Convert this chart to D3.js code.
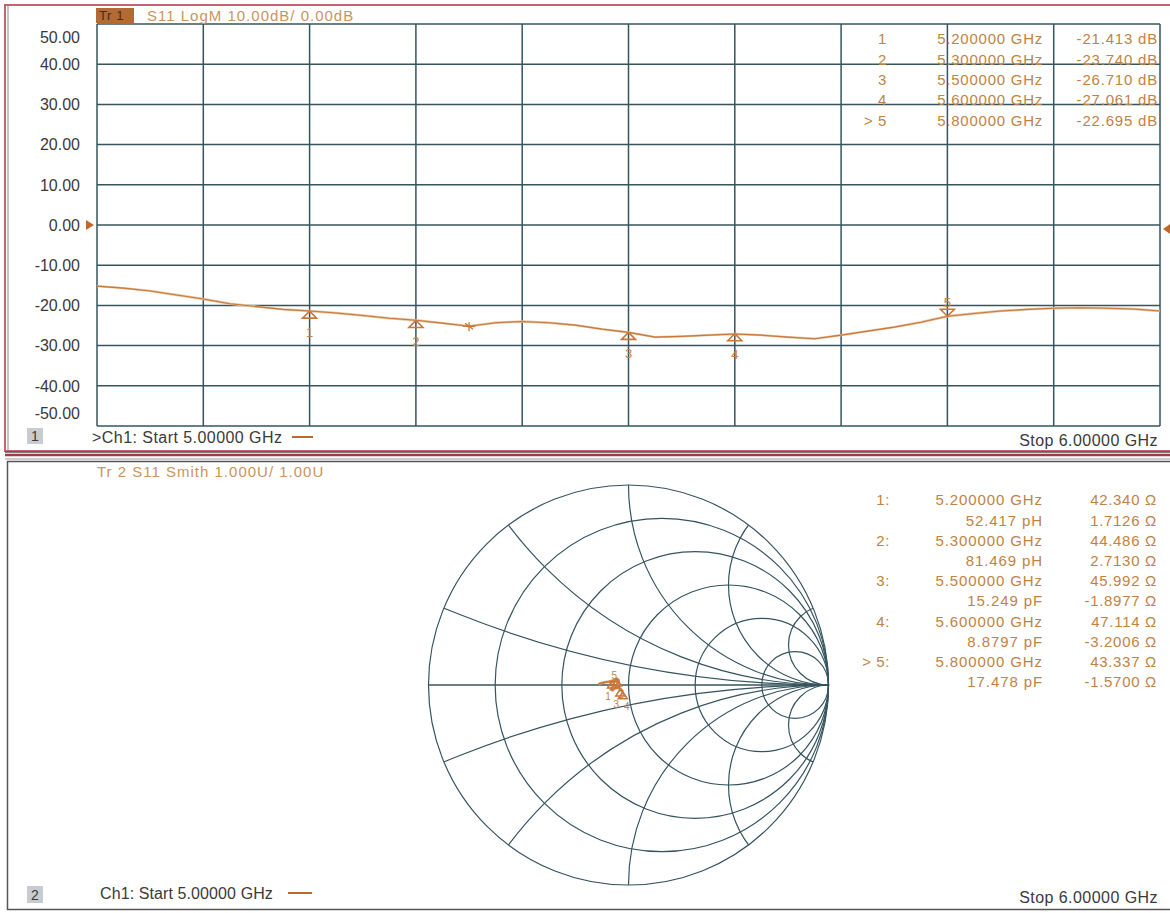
<!DOCTYPE html>
<html><head><meta charset="utf-8">
<script src="https://cdn.jsdelivr.net/npm/d3@7"></script>
<style>
html,body{margin:0;padding:0;background:#fff;}
svg text{font-family:"Liberation Sans",Arial,sans-serif;}
</style></head><body>
<svg id="c" width="1170" height="913"></svg>
<script>
// ---- S11 log magnitude trace (GHz, dB) ----
const freqGHz = [5.000,5.025,5.050,5.075,5.100,5.125,5.150,5.175,5.200,5.225,5.250,5.275,5.300,5.325,5.350,5.375,5.400,5.425,5.450,5.475,5.500,5.525,5.550,5.575,5.600,5.625,5.650,5.675,5.700,5.725,5.750,5.775,5.800,5.825,5.850,5.875,5.900,5.925,5.950,5.975,6.000];
const s11dB = [-15.2,-15.7,-16.4,-17.4,-18.4,-19.6,-20.3,-21.0,-21.4,-21.9,-22.5,-23.2,-23.7,-24.4,-25.2,-24.3,-24.0,-24.3,-24.9,-25.9,-26.7,-27.9,-27.7,-27.4,-27.1,-27.4,-27.9,-28.3,-27.4,-26.4,-25.4,-24.2,-22.7,-22.0,-21.4,-21.0,-20.7,-20.6,-20.7,-20.9,-21.4];
const yTicks = [50,40,30,20,10,0,-10,-20,-30,-40,-50];
const xGridGHz = [5.0,5.1,5.2,5.3,5.4,5.5,5.6,5.7,5.8,5.9,6.0];
const starIndex = 14; // 5.35 GHz

// ---- markers ----
const markerNo = [1,2,3,4,5];
const markerGHz = [5.2,5.3,5.5,5.6,5.8];
const markerFreqText = ["5.200000 GHz","5.300000 GHz","5.500000 GHz","5.600000 GHz","5.800000 GHz"];
const markerDb = [-21.413,-23.740,-26.710,-27.061,-22.695];
const markerR = [42.340,44.486,45.992,47.114,43.337];
const markerX = [1.7126,2.7130,-1.8977,-3.2006,-1.5700];
const markerLC = ["52.417 pH","81.469 pH","15.249 pF","8.8797 pF","17.478 pF"];
const activeMarker = 5;

// ---- Smith chart grid and trace (reflection coefficient) ----
const smithR = [0,0.2,0.5,1,2,5];
const smithX = [0.2,0.5,1,2,5];
const smithGHz = [5.00,5.05,5.10,5.15,5.20,5.25,5.30,5.35,5.40,5.45,5.50,5.55,5.60,5.65,5.70,5.75,5.80,5.85,5.90,5.95,6.00];
const smithRe = [-0.150,-0.135,-0.115,-0.096,-0.0826,-0.069,-0.0575,-0.050,-0.056,-0.050,-0.0413,-0.031,-0.0286,-0.033,-0.040,-0.056,-0.0711,-0.080,-0.088,-0.086,-0.082];
const smithIm = [0.004,0.010,0.014,0.017,0.0201,0.026,0.0304,0.024,0.012,-0.006,-0.0206,-0.030,-0.0339,-0.028,-0.020,-0.012,-0.0180,-0.026,-0.022,-0.016,-0.018];

const svg = d3.select("#c");
const GRID = "#36545e", TXT = "#3a3a3a", TAN = "#c08345", TRACE = "#c9773a";

// text helper
function label(g, x0, y0, s, opt) {
  const o = Object.assign({size:15, fill:TXT, anchor:"start", ls:0}, opt||{});
  return g.append("text").attr("x",x0).attr("y",y0).attr("dy","0.36em")
    .attr("text-anchor",o.anchor).attr("font-size",o.size).attr("fill",o.fill)
    .attr("letter-spacing",o.ls).text(s);
}

// ================= panel frames =================
svg.append("rect").attr("x",5).attr("y",5).attr("width",1170).attr("height",446)
  .attr("fill","none").attr("stroke","#c9616e").attr("stroke-width",2);
svg.append("line").attr("x1",8).attr("x2",8).attr("y1",6).attr("y2",451).attr("stroke","#8a8a8a").attr("stroke-width",1);
svg.append("line").attr("x1",5).attr("x2",1170).attr("y1",452).attr("y2",452).attr("stroke","#555").attr("stroke-width",1.5);
svg.append("line").attr("x1",5).attr("x2",1170).attr("y1",455).attr("y2",455).attr("stroke","#a83848").attr("stroke-width",2.5);
svg.append("line").attr("x1",5).attr("x2",1170).attr("y1",459).attr("y2",459).attr("stroke","#999").attr("stroke-width",1.2);
svg.append("rect").attr("x",7.5).attr("y",461.5).attr("width",1170).attr("height",448)
  .attr("fill","none").attr("stroke","#555").attr("stroke-width",1.5);

// ================= top: log magnitude =================
const x = d3.scaleLinear().domain([5,6]).range([97,1160]);
const y = d3.scaleLinear().domain([-50,50]).range([426,24]);

const gTop = svg.append("g");
gTop.selectAll("line.v").data(xGridGHz).join("line")
  .attr("x1",d=>x(d)).attr("x2",d=>x(d)).attr("y1",y(50)).attr("y2",y(-50))
  .attr("stroke",GRID).attr("stroke-width",1.5);
gTop.selectAll("line.h").data(yTicks).join("line")
  .attr("x1",x(5)).attr("x2",x(6)).attr("y1",d=>y(d)).attr("y2",d=>y(d))
  .attr("stroke",GRID).attr("stroke-width",1.5);

// y axis labels (end labels pulled inside the graticule)
yTicks.forEach(d=>{
  label(gTop, 80, Math.min(Math.max(y(d),y(50)+13),y(-50)-13), d.toFixed(2), {size:16, anchor:"end"});
});

// reference position arrows
gTop.append("path").attr("d",`M${x(5)-11},${y(0)-5}L${x(5)-3},${y(0)}L${x(5)-11},${y(0)+5}Z`).attr("fill","#c0682a");
gTop.append("path").attr("d",`M1170,${y(0)-1}L1163,${y(0)+4}L1170,${y(0)+9}Z`).attr("fill","#c0682a");

// trace
const line = d3.line().x((d,i)=>x(freqGHz[i])).y(d=>y(d));
gTop.append("path").datum(s11dB).attr("d",line).attr("fill","none")
  .attr("stroke","#e6c29a").attr("stroke-width",2.4);
gTop.append("path").datum(s11dB).attr("d",line).attr("fill","none")
  .attr("stroke",TRACE).attr("stroke-width",1.1);

// star marker on the trace
{
  const px = x(freqGHz[starIndex]), py = y(s11dB[starIndex]);
  const st = gTop.append("g").attr("stroke",TRACE).attr("stroke-width",1.3);
  st.append("line").attr("x1",px-6).attr("x2",px+6).attr("y1",py).attr("y2",py);
  st.append("line").attr("x1",px).attr("x2",px).attr("y1",py-4).attr("y2",py+5);
  st.append("line").attr("x1",px-4).attr("x2",px+4).attr("y1",py-3).attr("y2",py+3);
}

// marker triangles and numbers
markerNo.forEach((m,i)=>{
  const mx = x(markerGHz[i]), my = y(markerDb[i]);
  if (m === activeMarker) {
    gTop.append("path").attr("d",`M${mx-7},${my-7}L${mx+7},${my-7}L${mx},${my}Z`)
      .attr("fill","none").attr("stroke",TRACE).attr("stroke-width",1.6);
    label(gTop, mx, my-14, m, {size:13, anchor:"middle", fill:TAN});
  } else {
    gTop.append("path").attr("d",`M${mx},${my}L${mx+7},${my+7}L${mx-7},${my+7}Z`)
      .attr("fill","none").attr("stroke",TRACE).attr("stroke-width",1.6);
    label(gTop, mx, my+21, m, {size:13, anchor:"middle", fill:TAN});
  }
});

// marker readout table
const tRow = d3.scaleLinear().domain([0,1]).range([39,59.3]);
markerNo.forEach((m,i)=>{
  const ty = tRow(i);
  label(gTop, 887, ty, m===activeMarker?"> "+m:String(m), {size:15, anchor:"end", fill:TAN, ls:0.6});
  label(gTop, 1043, ty, markerFreqText[i], {size:15, anchor:"end", fill:TAN, ls:0.75});
  label(gTop, 1158, ty, markerDb[i].toFixed(3)+" dB", {size:15, anchor:"end", fill:TAN, ls:0.8});
});

// header and footer
gTop.append("rect").attr("x",96).attr("y",8).attr("width",38).attr("height",15).attr("fill","#b46a34");
label(gTop, 99, 15.5, "Tr 1", {size:13, fill:"#4a2a12", ls:0.6});
label(gTop, 147, 15.5, "S11 LogM 10.00dB/ 0.00dB", {size:15, fill:"#c89560", ls:1.0});
gTop.append("rect").attr("x",27).attr("y",428).attr("width",16).attr("height",16).attr("fill","#c8ccd0");
label(gTop, 35, 436, "1", {size:14, anchor:"middle"});
label(gTop, 92, 437, ">Ch1: Start 5.00000 GHz", {size:16, ls:0.45});
gTop.append("line").attr("x1",292).attr("x2",313).attr("y1",437).attr("y2",437).attr("stroke","#c0682a").attr("stroke-width",2);
label(gTop, 1158, 440, "Stop 6.00000 GHz", {size:16, anchor:"end", ls:0.45});

// ================= bottom: Smith chart =================
const sx = d3.scaleLinear().domain([-1,1]).range([428.5,828.5]);
const sy = d3.scaleLinear().domain([-1,1]).range([885,485]);
const rad = v => sx(v) - sx(0);
const gS = svg.append("g");

svg.append("defs").append("clipPath").attr("id","unit")
  .append("circle").attr("cx",sx(0)).attr("cy",sy(0)).attr("r",rad(1));

// constant resistance circles
gS.selectAll("circle.r").data(smithR).join("circle")
  .attr("cx",d=>sx(d/(1+d))).attr("cy",sy(0)).attr("r",d=>rad(1/(1+d)))
  .attr("fill","none").attr("stroke",GRID).attr("stroke-width",1.2);
// constant reactance arcs
const xs = smithX.flatMap(v=>[v,-v]);
gS.append("g").attr("clip-path","url(#unit)").selectAll("circle").data(xs).join("circle")
  .attr("cx",sx(1)).attr("cy",d=>sy(1/d)).attr("r",d=>rad(1/Math.abs(d)))
  .attr("fill","none").attr("stroke",GRID).attr("stroke-width",1.2);
gS.append("line").attr("x1",sx(-1)).attr("x2",sx(1)).attr("y1",sy(0)).attr("y2",sy(0))
  .attr("stroke",GRID).attr("stroke-width",1.4);

// trace
const sLine = d3.line().x((d,i)=>sx(smithRe[i])).y((d,i)=>sy(smithIm[i]));
gS.append("path").datum(smithGHz).attr("d",sLine).attr("fill","none").attr("stroke","#d9a06a").attr("stroke-width",2.8);
gS.append("path").datum(smithGHz).attr("d",sLine).attr("fill","none").attr("stroke",TRACE).attr("stroke-width",1.4);

// markers from impedance (Z0 = 50 ohm)
markerNo.forEach((m,i)=>{
  const zr = markerR[i]/50, zi = markerX[i]/50;
  const nr = zr-1, ni = zi, dr = zr+1, di = zi, den = dr*dr+di*di;
  const gr = (nr*dr+ni*di)/den, gi = (ni*dr-nr*di)/den;
  const mx = sx(gr), my = sy(gi);
  if (m === activeMarker) {
    gS.append("path").attr("d",`M${mx-4.5},${my-7}L${mx+4.5},${my-7}L${mx},${my}Z`).attr("fill","none").attr("stroke",TRACE).attr("stroke-width",1.5);
    label(gS, mx, my-13, m, {size:10, anchor:"middle", fill:TAN});
  } else {
    gS.append("path").attr("d",`M${mx},${my}L${mx+4.5},${my+7}L${mx-4.5},${my+7}Z`).attr("fill","none").attr("stroke",TRACE).attr("stroke-width",1.5);
    label(gS, mx + (m%2 ? -4 : 4), my+15, m, {size:10, anchor:"middle", fill:TAN});
  }
});

// Smith readout table
const sRow = d3.scaleLinear().domain([0,1]).range([500,520.2]);
markerNo.forEach((m,i)=>{
  const r1 = sRow(2*i), r2 = sRow(2*i+1);
  label(gS, 890, r1, (m===activeMarker?"> ":"")+m+":", {size:15, anchor:"end", fill:TAN, ls:0.6});
  label(gS, 1043, r1, markerFreqText[i], {size:15, anchor:"end", fill:TAN, ls:0.9});
  label(gS, 1157, r1, markerR[i].toFixed(3)+" Ω", {size:15, anchor:"end", fill:TAN, ls:0.7});
  label(gS, 1043, r2, markerLC[i], {size:15, anchor:"end", fill:TAN, ls:0.9});
  label(gS, 1157, r2, markerX[i].toFixed(4)+" Ω", {size:15, anchor:"end", fill:TAN, ls:0.7});
});

label(gS, 97, 472, "Tr 2   S11 Smith 1.000U/ 1.00U", {size:15, fill:"#c89560", ls:1.0});
gS.append("rect").attr("x",27).attr("y",886).attr("width",16).attr("height",17).attr("fill","#c8ccd0");
label(gS, 35, 894.5, "2", {size:14, anchor:"middle"});
label(gS, 100, 893, "Ch1: Start 5.00000 GHz", {size:16, ls:0.1});
gS.append("line").attr("x1",288).attr("x2",312).attr("y1",893).attr("y2",893).attr("stroke","#c0682a").attr("stroke-width",2);
label(gS, 1158, 897, "Stop 6.00000 GHz", {size:16, anchor:"end", ls:0.45});
</script>
</body></html>
